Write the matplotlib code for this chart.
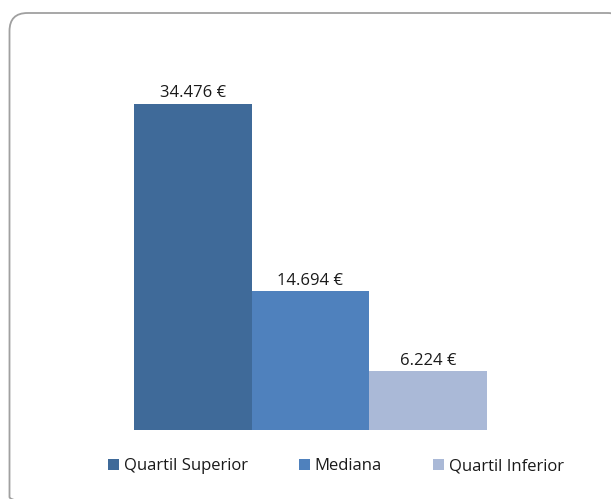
import matplotlib.pyplot as plt
from matplotlib.patches import FancyBboxPatch, Patch

categories = ["Quartil Superior", "Mediana", "Quartil Inferior"]
values = [34476, 14694, 6224]
colors = ["#3F6A99", "#4F81BD", "#AAB9D7"]

plt.rcParams['font.family'] = ['Open Sans', 'DejaVu Sans']

W, H = 611, 499
fig = plt.figure(figsize=(W / 100, H / 100), dpi=100)

# background axes in pixel units for the rounded frame
bg = fig.add_axes([0, 0, 1, 1], zorder=-1)
bg.set_xlim(0, W)
bg.set_ylim(H, 0)
bg.axis("off")
bg.add_patch(FancyBboxPatch((9.5, 13), 616, 502,
                            boxstyle="round,pad=0,rounding_size=18",
                            facecolor="none", edgecolor="#A0A0A0",
                            linewidth=1.3, clip_on=False))

ax = fig.add_axes([134 / W, (H - 430) / H, 353 / W, 378.6 / H])
ax.set_facecolor("none")
x = range(len(values))
bars = ax.bar(x, values, width=1.0, color=colors)
ax.set_xlim(-0.5, len(values) - 0.5)
ax.set_ylim(0, 40000)
ax.axis("off")

for b, v in zip(bars, values):
    label = f"{v:,} €".replace(",", ".")
    ax.annotate(label, (b.get_x() + b.get_width() / 2, v),
                xytext=(0, 4.5), textcoords="offset points",
                ha="center", va="baseline", fontsize=12, color="#1a1a1a")

handles = [Patch(facecolor=c, edgecolor="none") for c in colors]
fig.legend(handles, categories, loc="center", bbox_to_anchor=(336 / W, 0.066),
           ncol=3, frameon=False, fontsize=12, handlelength=0.62, handleheight=0.62,
           handletextpad=0.3, columnspacing=3.1, labelcolor="#1a1a1a")

fig.savefig("out.png", dpi=100)
